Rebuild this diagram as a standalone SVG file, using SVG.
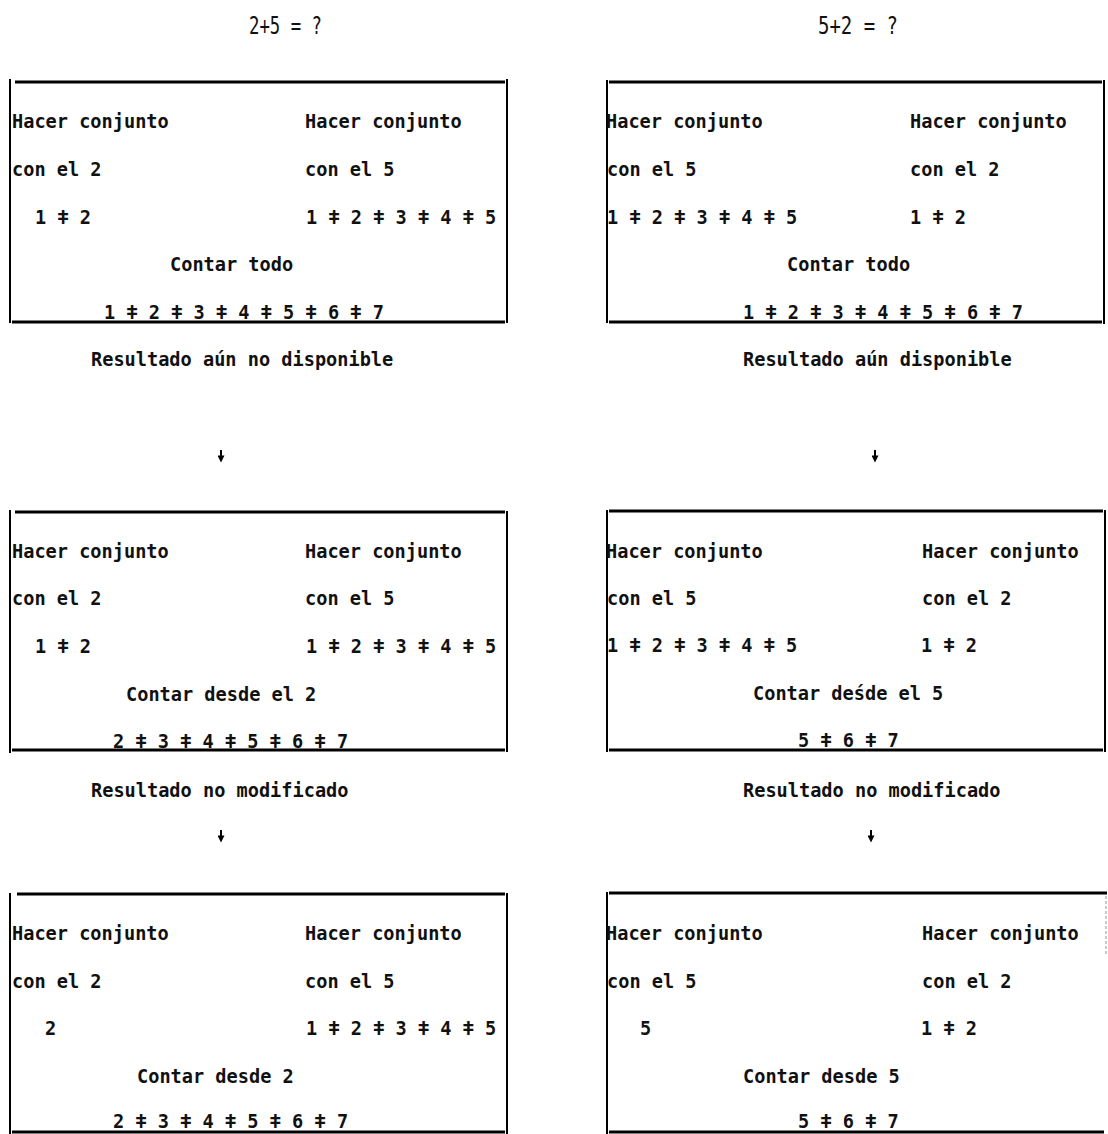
<svg xmlns="http://www.w3.org/2000/svg" width="1108" height="1134" viewBox="0 0 1108 1134">
<style>
.t{font-family:"DejaVu Sans Mono","Liberation Mono",monospace;font-size:18.6px;font-weight:bold;fill:#111}
.ttl{font-family:"DejaVu Sans Mono","Liberation Mono",monospace;font-size:24px;fill:#111}
.h{stroke:#000;stroke-width:3;fill:none}
.v{stroke:#000;stroke-width:2;fill:none}
.c{stroke:#000;stroke-width:2;fill:none}
</style>
<defs>
<marker id="ah" viewBox="0 0 10 10" refX="2" refY="5" markerWidth="8" markerHeight="7" markerUnits="userSpaceOnUse" orient="auto">
<path d="M0,0 L10,5 L0,10 Z" fill="#000"/>
</marker>
</defs>
<rect width="1108" height="1134" fill="#fff"/>

<g id="title-left"><text class="ttl" x="249" y="34" textLength="73" lengthAdjust="spacingAndGlyphs">2+5 = ?</text></g>
<g id="title-right"><text class="ttl" x="818" y="34" textLength="80" lengthAdjust="spacingAndGlyphs">5+2 = ?</text></g>

<g id="box-l1">
<line class="v" x1="10" y1="79" x2="10" y2="323"/>
<line class="v" x1="507" y1="79" x2="507" y2="323"/>
<line class="h" x1="15" y1="82" x2="505" y2="82"/>
<line class="h" x1="12" y1="322" x2="505" y2="322"/>
<text class="t" x="12" y="128">Hacer conjunto</text>
<text class="t" x="305" y="128">Hacer conjunto</text>
<text class="t" x="12" y="176">con el 2</text>
<text class="t" x="305" y="176">con el 5</text>
<text class="t" x="35" y="224">1 ǂ 2</text>
<text class="t" x="306" y="224">1 ǂ 2 ǂ 3 ǂ 4 ǂ 5</text>
<text class="t" x="170" y="271">Contar todo</text>
<text class="t" x="104" y="319">1 ǂ 2 ǂ 3 ǂ 4 ǂ 5 ǂ 6 ǂ 7</text>
</g>
<g id="cap-l1"><text class="t" x="91" y="366">Resultado aún no disponible</text></g>

<g id="box-r1">
<line class="v" x1="607" y1="80" x2="607" y2="323"/>
<line class="v" x1="1104" y1="80" x2="1104" y2="324"/>
<line class="h" x1="609" y1="82" x2="1102" y2="82"/>
<line class="h" x1="609" y1="322" x2="1102" y2="322"/>
<text class="t" x="606" y="128">Hacer conjunto</text>
<text class="t" x="910" y="128">Hacer conjunto</text>
<text class="t" x="607" y="176">con el 5</text>
<text class="t" x="910" y="176">con el 2</text>
<text class="t" x="607" y="224">1 ǂ 2 ǂ 3 ǂ 4 ǂ 5</text>
<text class="t" x="910" y="224">1 ǂ 2</text>
<text class="t" x="787" y="271">Contar todo</text>
<text class="t" x="743" y="319">1 ǂ 2 ǂ 3 ǂ 4 ǂ 5 ǂ 6 ǂ 7</text>
</g>
<g id="cap-r1"><text class="t" x="743" y="366">Resultado aún disponible</text></g>

<g id="box-l2">
<line class="v" x1="10" y1="510" x2="10" y2="753"/>
<line class="v" x1="507" y1="511" x2="507" y2="752"/>
<line class="h" x1="15" y1="512" x2="505" y2="512"/>
<line class="h" x1="12" y1="750" x2="505" y2="750"/>
<text class="t" x="12" y="558">Hacer conjunto</text>
<text class="t" x="305" y="558">Hacer conjunto</text>
<text class="t" x="12" y="605">con el 2</text>
<text class="t" x="305" y="605">con el 5</text>
<text class="t" x="35" y="653">1 ǂ 2</text>
<text class="t" x="306" y="653">1 ǂ 2 ǂ 3 ǂ 4 ǂ 5</text>
<text class="t" x="126" y="701">Contar desde el 2</text>
<text class="t" x="113" y="748">2 ǂ 3 ǂ 4 ǂ 5 ǂ 6 ǂ 7</text>
</g>
<g id="cap-l2"><text class="t" x="91" y="797">Resultado no modificado</text></g>

<g id="box-r2">
<line class="v" x1="607" y1="510" x2="607" y2="752"/>
<line class="v" x1="1105" y1="510" x2="1105" y2="752"/>
<line class="h" x1="609" y1="511" x2="1103" y2="511"/>
<line class="h" x1="609" y1="750" x2="1103" y2="750"/>
<text class="t" x="606" y="558">Hacer conjunto</text>
<text class="t" x="922" y="558">Hacer conjunto</text>
<text class="t" x="607" y="605">con el 5</text>
<text class="t" x="922" y="605">con el 2</text>
<text class="t" x="607" y="652">1 ǂ 2 ǂ 3 ǂ 4 ǂ 5</text>
<text class="t" x="921" y="652">1 ǂ 2</text>
<text class="t" x="753" y="700">Contar deśde el 5</text>
<text class="t" x="798" y="747">5 ǂ 6 ǂ 7</text>
</g>
<g id="cap-r2"><text class="t" x="743" y="797">Resultado no modificado</text></g>

<g id="box-l3">
<line class="v" x1="10" y1="893" x2="10" y2="1134"/>
<line class="v" x1="507" y1="893" x2="507" y2="1134"/>
<line class="h" x1="17" y1="894" x2="505" y2="894"/>
<line class="h" x1="12" y1="1132" x2="505" y2="1132"/>
<text class="t" x="12" y="940">Hacer conjunto</text>
<text class="t" x="305" y="940">Hacer conjunto</text>
<text class="t" x="12" y="988">con el 2</text>
<text class="t" x="305" y="988">con el 5</text>
<text class="t" x="45" y="1035">2</text>
<text class="t" x="306" y="1035">1 ǂ 2 ǂ 3 ǂ 4 ǂ 5</text>
<text class="t" x="137" y="1083">Contar desde 2</text>
<text class="t" x="113" y="1128">2 ǂ 3 ǂ 4 ǂ 5 ǂ 6 ǂ 7</text>
</g>

<g id="box-r3">
<line class="v" x1="607" y1="892" x2="607" y2="1134"/>
<line x1="1106" y1="896" x2="1106" y2="955" stroke="#bbb" stroke-width="1.5" stroke-dasharray="3 2"/>
<line class="h" x1="609" y1="893" x2="1107" y2="893"/>
<line class="h" x1="609" y1="1132" x2="1104" y2="1132"/>
<text class="t" x="606" y="940">Hacer conjunto</text>
<text class="t" x="922" y="940">Hacer conjunto</text>
<text class="t" x="607" y="988">con el 5</text>
<text class="t" x="922" y="988">con el 2</text>
<text class="t" x="640" y="1035">5</text>
<text class="t" x="921" y="1035">1 ǂ 2</text>
<text class="t" x="743" y="1083">Contar desde 5</text>
<text class="t" x="798" y="1128">5 ǂ 6 ǂ 7</text>
</g>

<g id="connectors">
<line class="c" x1="221" y1="450" x2="221" y2="457" marker-end="url(#ah)"/>
<line class="c" x1="875" y1="450" x2="875" y2="457" marker-end="url(#ah)"/>
<line class="c" x1="221" y1="830" x2="221" y2="837" marker-end="url(#ah)"/>
<line class="c" x1="871" y1="830" x2="871" y2="837" marker-end="url(#ah)"/>
</g>
</svg>
